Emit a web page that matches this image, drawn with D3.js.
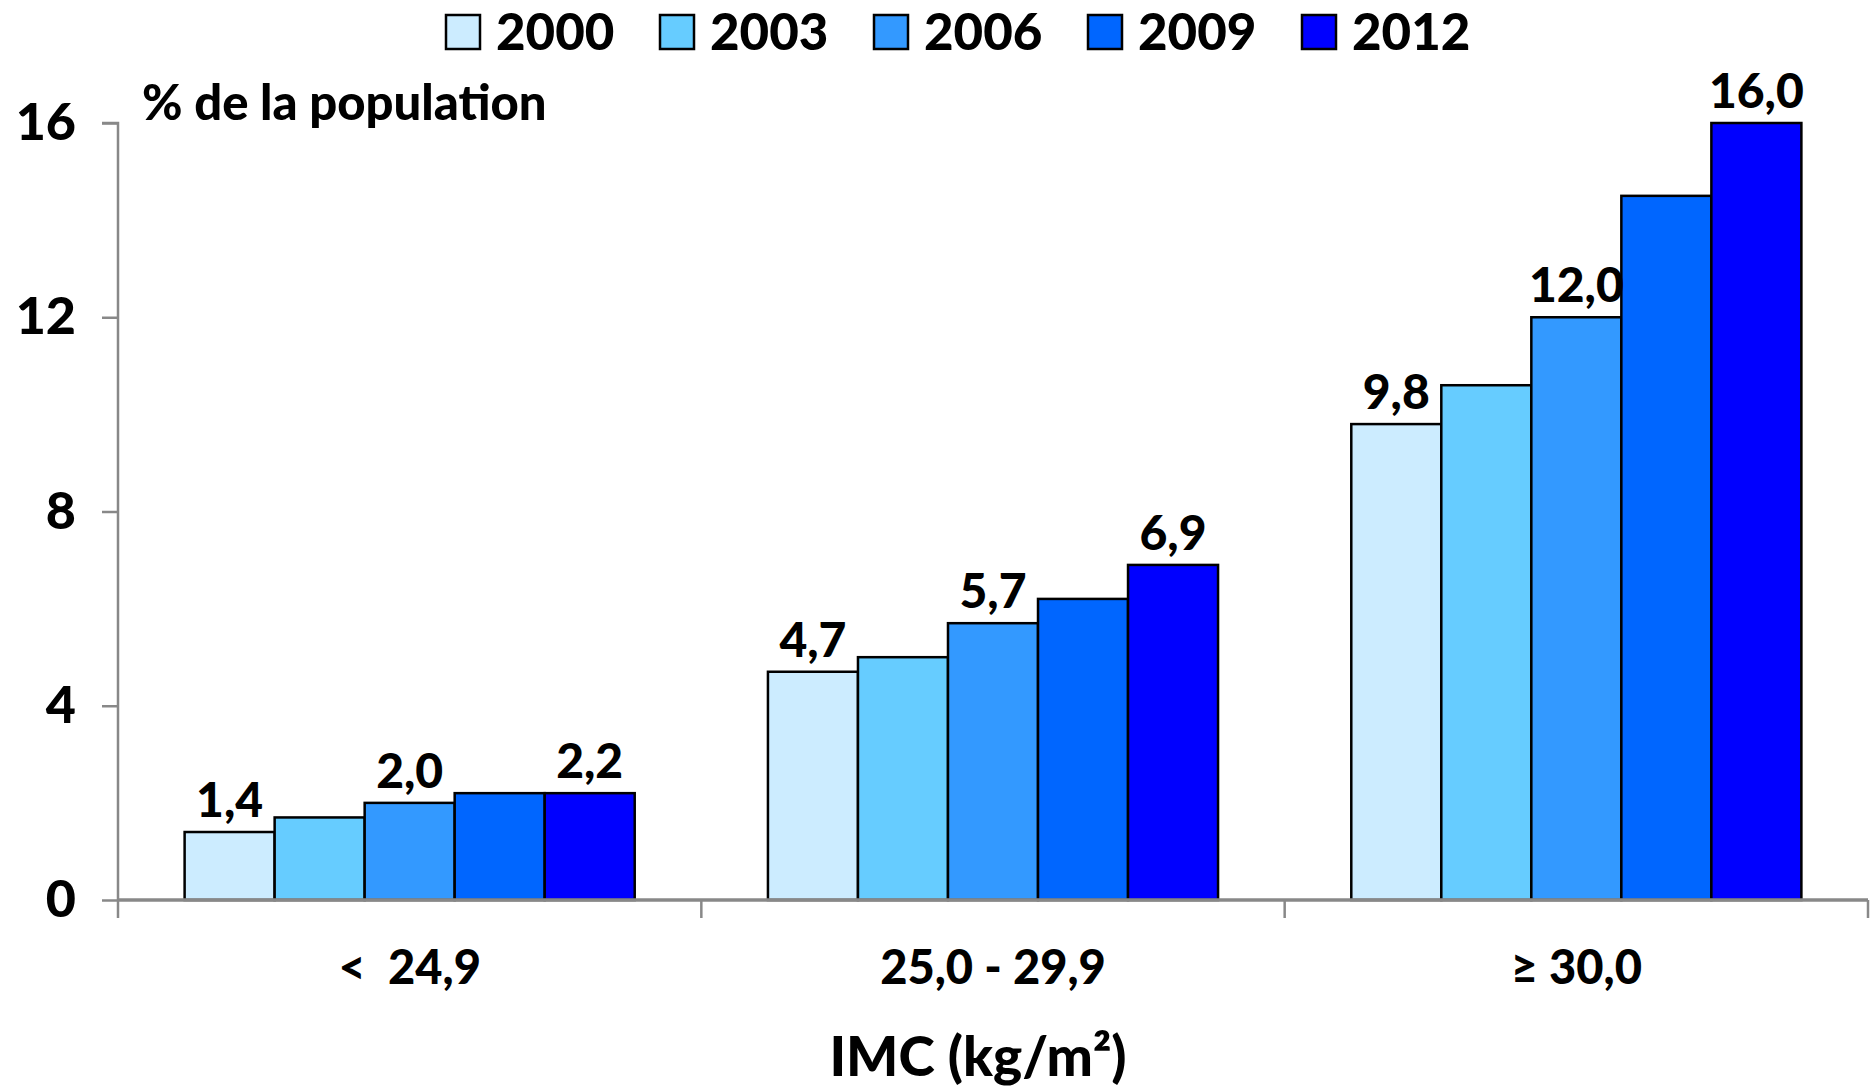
<!DOCTYPE html>
<html><head><meta charset="utf-8">
<script src="https://cdn.jsdelivr.net/npm/d3@7"></script>
<style>
html,body{margin:0;padding:0;background:#fff;}
svg{display:block;font-family:Lato,"Open Sans",sans-serif;font-weight:900;}
text{white-space:pre;}
</style></head>
<body>
<svg id="c" width="1870" height="1090"></svg>
<script>
const categories = ["<  24,9", "25,0 - 29,9", "\u2265 30,0"];
const years = ["2000", "2003", "2006", "2009", "2012"];
const colors = ["#CCECFF", "#66CCFF", "#3399FF", "#0066FF", "#0000FF"];
const values = {
  "2000": [1.4, 4.7, 9.8],
  "2003": [1.7, 5.0, 10.6],
  "2006": [2.0, 5.7, 12.0],
  "2009": [2.2, 6.2, 14.5],
  "2012": [2.2, 6.9, 16.0]
};
const labelledYears = ["2000", "2006", "2012"];
const yTicks = [0, 4, 8, 12, 16];
const yTitle = "% de la population";
const xTitle = "IMC (kg/m\u00B2)";

const svg = d3.select("#c");
const mLeft = 118, mRight = 1868, mTop = 123, mBottom = 900;

const x0 = d3.scaleBand().domain(categories).range([mLeft, mRight]).paddingInner(0).paddingOuter(0);
const x1 = d3.scaleBand().domain(years).range([0, x0.bandwidth()]).paddingInner(0).paddingOuter(0.74);
const y = d3.scaleLinear().domain([0, 16]).range([mBottom, mTop]);
const color = d3.scaleOrdinal().domain(years).range(colors);

const data = [];
categories.forEach((c, ci) => years.forEach(yr => data.push({c, yr, v: values[yr][ci]})));

svg.append("g").selectAll("rect").data(data).join("rect")
  .attr("x", d => x0(d.c) + x1(d.yr))
  .attr("y", d => y(d.v))
  .attr("width", x1.bandwidth())
  .attr("height", d => y(0) - y(d.v))
  .attr("fill", d => color(d.yr))
  .attr("stroke", "#000")
  .attr("stroke-width", 2.5);

svg.append("g").selectAll("text").data(data.filter(d => labelledYears.includes(d.yr))).join("text")
  .attr("x", d => x0(d.c) + x1(d.yr) + x1.bandwidth() / 2)
  .attr("y", d => y(d.v) - 15)
  .attr("text-anchor", "middle")
  .attr("font-size", 48)
  .attr("fill", "#000")
  .text(d => d3.format(".1f")(d.v).replace(".", ","));

const yAxis = svg.append("g").attr("transform", `translate(${mLeft},0)`)
  .call(d3.axisLeft(y).tickValues(yTicks).tickSize(16).tickPadding(26).tickFormat(d3.format("d")));
yAxis.select(".domain").attr("stroke", "#888").attr("stroke-width", 2.5).attr("d", `M-16,${mTop}H0V${mBottom}`);
yAxis.selectAll(".tick line").attr("stroke", "#888").attr("stroke-width", 2.5);
yAxis.selectAll(".tick text").attr("font-size", 52).attr("fill", "#000").attr("font-family", "Lato").attr("font-weight", 900);

const xAxis = svg.append("g").attr("transform", `translate(0,${mBottom})`)
  .call(d3.axisBottom(x0).tickSize(0).tickPadding(0));
xAxis.select(".domain").attr("stroke", "#888").attr("stroke-width", 3.5).attr("d", `M${mLeft},0H${mRight}`);
xAxis.selectAll(".tick text").attr("font-size", 47).attr("fill", "#000")
  .attr("font-family", "Lato").attr("font-weight", 900)
  .attr("dy", null).attr("y", 84);

const seps = categories.map(c => x0(c)).concat([mRight]);
svg.append("g").selectAll("line").data(seps).join("line")
  .attr("x1", d => d).attr("x2", d => d)
  .attr("y1", mBottom).attr("y2", mBottom + 18)
  .attr("stroke", "#888").attr("stroke-width", 2.5);

svg.append("text").attr("x", 142).attr("y", 120).attr("font-size", 49).attr("fill", "#000").text(yTitle);
svg.append("text").attr("x", 978).attr("y", 1076).attr("text-anchor", "middle").attr("font-size", 55).attr("fill", "#000").text(xTitle);

const lg = svg.append("g").selectAll("g").data(years).join("g")
  .attr("transform", (d, i) => `translate(${446 + i * 214},15)`);
lg.append("rect").attr("width", 34).attr("height", 34).attr("fill", d => color(d)).attr("stroke", "#000").attr("stroke-width", 2.5);
lg.append("text").attr("x", 50).attr("y", 35).attr("font-size", 51).attr("fill", "#000").text(d => d);
</script>
</body></html>
